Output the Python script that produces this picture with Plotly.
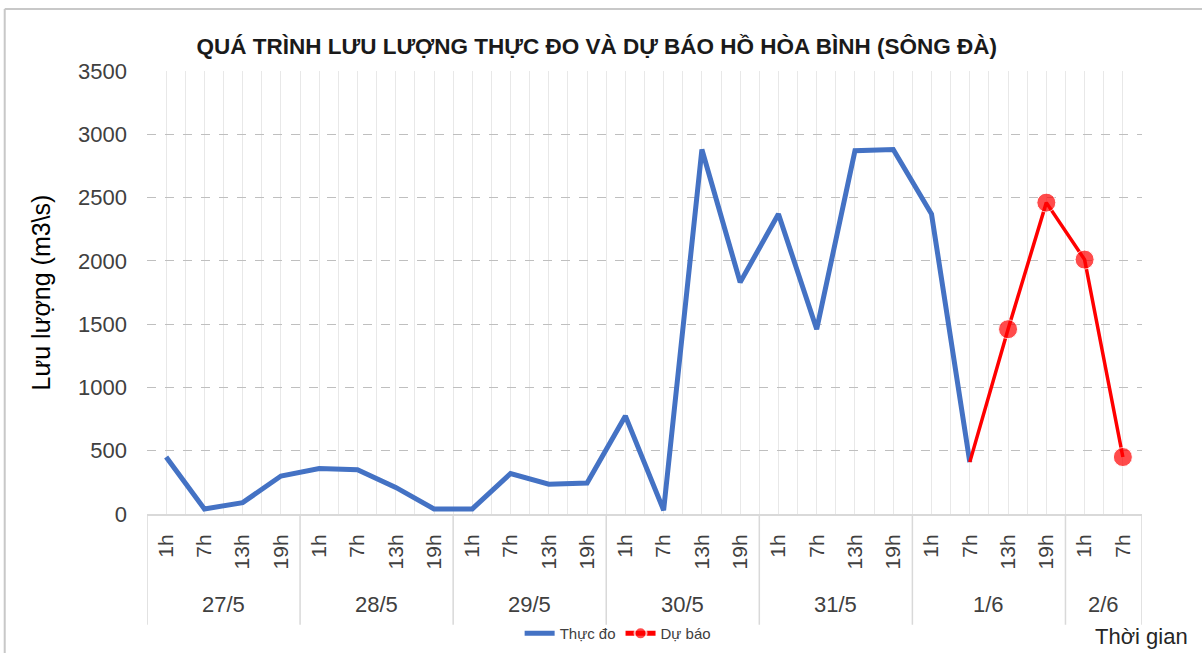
import plotly.graph_objects as go

# ---- data ----
days = ["27/5", "28/5", "29/5", "30/5", "31/5", "1/6", "2/6"]
hours_per_day = [4, 4, 4, 4, 4, 4, 2]
hour_labels = ["1h", "7h", "13h", "19h"] * 6 + ["1h", "7h"]

observed = [450, 40, 90, 300, 360, 350, 210, 40, 40, 320, 235, 245,
            775, 30, 2880, 1830, 2370, 1460, 2870, 2880, 2370, 410]
forecast = [410, 1460, 2460, 2010, 450]
forecast_start = 21

title = "QUÁ TRÌNH LƯU LƯỢNG THỰC ĐO VÀ DỰ BÁO HỒ HÒA BÌNH (SÔNG ĐÀ)"
y_title = "Lưu lượng (m3\\s)"
x_title = "Thời gian"

n = len(hour_labels)
x_obs = list(range(len(observed)))
x_fc = list(range(forecast_start, forecast_start + len(forecast)))

FONT2 = "Liberation Sans, Arial, sans-serif"

fig = go.Figure()
fig.add_trace(go.Scatter(
    x=x_obs, y=observed, mode="lines", name="Thực đo",
    line=dict(color="#4472C4", width=5),
))
fig.add_trace(go.Scatter(
    x=x_fc, y=forecast, mode="lines+markers", name="Dự báo",
    line=dict(color="#FF0000", width=3.5),
    marker=dict(color="#FF0000", size=[0] + [19] * (len(forecast) - 1)),
))

shapes = []
b = 0
bounds = [-0.5]
for h in hours_per_day:
    b += h
    bounds.append(b - 0.5)
for xb in bounds:
    shapes.append(dict(type="line", xref="x", yref="paper", x0=xb, x1=xb,
                       y0=0, y1=-0.25, line=dict(color="#d9d9d9", width=1.5)))
# chart frame (top and left)
shapes.append(dict(type="line", xref="paper", yref="paper", x0=-0.143, x1=1.07,
                   y0=1.14, y1=1.14, line=dict(color="#c8c8c8", width=2)))
shapes.append(dict(type="line", xref="paper", yref="paper", x0=-0.143, x1=-0.143,
                   y0=1.14, y1=-0.33, line=dict(color="#c8c8c8", width=2)))

annotations = []
for i, d in enumerate(days):
    cx = (bounds[i] + bounds[i + 1]) / 2
    annotations.append(dict(text=d, x=cx, xref="x", y=-0.205, yref="paper",
                            showarrow=False, yanchor="middle",
                            font=dict(family=FONT2, size=22, color="#404040")))
annotations.append(dict(text=x_title, x=1.048, xref="paper", y=-0.277, yref="paper",
                        showarrow=False, xanchor="right", yanchor="middle",
                        font=dict(family=FONT2, size=22, color="#262626")))

fig.update_layout(
    template="none",
    width=1202, height=653,
    margin=dict(l=147, r=60, t=71, b=139, autoexpand=False),
    paper_bgcolor="white", plot_bgcolor="white",
    title=dict(text="<b>" + title + "</b>", x=(147 + 0.452 * 995) / 1202,
               xanchor="center", y=1 - 46 / 653, yanchor="middle",
               font=dict(family=FONT2, size=22.5, color="#1a1a1a")),
    showlegend=True,
    legend=dict(orientation="h", x=0.473, xanchor="center", y=-0.27, yanchor="middle",
                font=dict(family=FONT2, size=15, color="#404040"),
                itemsizing="constant", bgcolor="rgba(0,0,0,0)"),
    shapes=shapes, annotations=annotations,
)
fig.update_xaxes(
    automargin=False,
    range=[-0.5, n - 0.5], tickmode="array",
    tickvals=list(range(n)), ticktext=hour_labels, tickangle=-90,
    tickfont=dict(family=FONT2, size=21, color="#404040"),
    ticks="", ticklabelstandoff=10,
    showgrid=False, zeroline=False,
    showline=True, linecolor="#d9d9d9", linewidth=2,
    minor=dict(tickmode="linear", tick0=-0.5, dtick=0.5, showgrid=True,
               gridcolor="#e8e8e8", gridwidth=1, ticks=""),
)
fig.update_yaxes(
    automargin=False,
    range=[0, 3500], dtick=500, tick0=0,
    tickfont=dict(family=FONT2, size=22, color="#404040"),
    ticks="", ticklabelstandoff=19,
    showgrid=True, gridcolor="#bfbfbf", griddash="dash", gridwidth=1,
    zeroline=False, showline=False,
    title=dict(text=y_title, font=dict(family=FONT2, size=25, color="#000000"),
               standoff=20),
)

fig.write_html("out.html", config={"displayModeBar": False},
               post_script="document.body.style.margin='0';")
